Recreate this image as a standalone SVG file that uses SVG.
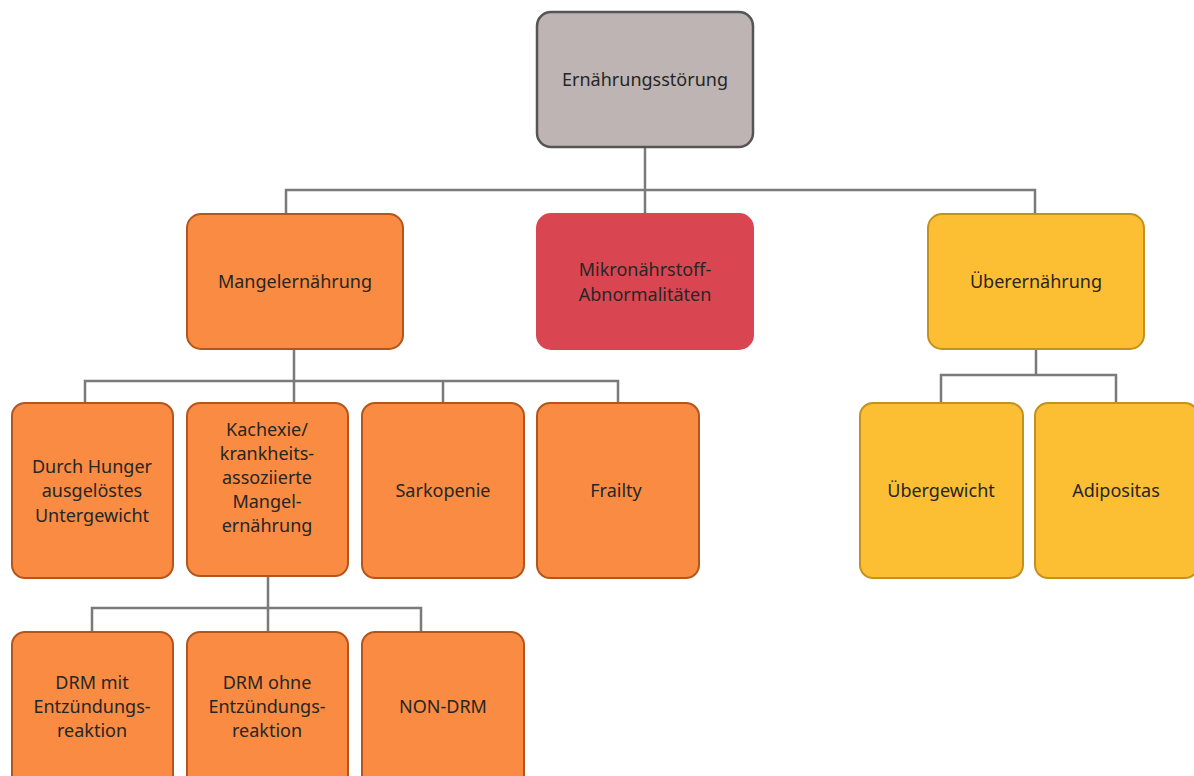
<svg xmlns="http://www.w3.org/2000/svg" width="1194" height="776" viewBox="0 0 1194 776">
<style>
text{font-family:"Noto Sans","Open Sans","DejaVu Sans",sans-serif;font-size:18px;fill:#262626;text-anchor:middle}
.g rect{fill:#bdb4b3;stroke:#555;stroke-width:2.5}
.o rect{fill:#f98b43;stroke:#b3551c;stroke-width:2}
.r rect{fill:#d94652;stroke:#d94652;stroke-width:2}
.y rect{fill:#fcbf33;stroke:#c4911f;stroke-width:2}
#connectors path{fill:none;stroke:#7a7a7a;stroke-width:2.5}
</style>
<rect width="1194" height="776" fill="#fff"/>
<g id="connectors">
<path d="M645 147V214M286 214V190H1035V214"/>
<path d="M294 349V381M85 403V381H618V403M294 381V403M443 381V403"/>
<path d="M1036 349V375M941 403V375H1116V403"/>
<path d="M268 576V632M92 632V608H421V632"/>
</g>
<g id="n-root" class="g"><rect x="537" y="12" width="216" height="135" rx="14"/><text x="645" y="86">Ernährungsstörung</text></g>
<g id="n-mangel" class="o"><rect x="187" y="214" width="216" height="135" rx="14"/><text x="295" y="288">Mangelernährung</text></g>
<g id="n-mikro" class="r"><rect x="537" y="214" width="216" height="135" rx="14"/><text x="645" y="276">Mikronährstoff-</text><text x="645" y="301">Abnormalitäten</text></g>
<g id="n-ueber" class="y"><rect x="928" y="214" width="216" height="135" rx="14"/><text x="1036" y="288">Überernährung</text></g>
<g id="n-hunger" class="o"><rect x="12" y="403" width="161" height="175" rx="13"/><text x="92" y="473">Durch Hunger</text><text x="92" y="497">ausgelöstes</text><text x="92" y="522">Untergewicht</text></g>
<g id="n-kachexie" class="o"><rect x="187" y="403" width="161" height="173" rx="13"/><text x="267" y="436">Kachexie/</text><text x="267" y="460">krankheits-</text><text x="267" y="484">assoziierte</text><text x="267" y="508">Mangel-</text><text x="267" y="532">ernährung</text></g>
<g id="n-sarko" class="o"><rect x="362" y="403" width="162" height="175" rx="13"/><text x="443" y="497">Sarkopenie</text></g>
<g id="n-frailty" class="o"><rect x="537" y="403" width="162" height="175" rx="13"/><text x="616" y="497">Frailty</text></g>
<g id="n-uebergewicht" class="y"><rect x="860" y="403" width="163" height="175" rx="13"/><text x="941" y="497">Übergewicht</text></g>
<g id="n-adipositas" class="y"><rect x="1035" y="403" width="163" height="175" rx="13"/><text x="1116" y="497">Adipositas</text></g>
<g id="n-drm-mit" class="o"><rect x="12" y="632" width="161" height="160" rx="13"/><text x="92" y="689">DRM mit</text><text x="92" y="713">Entzündungs-</text><text x="92" y="737">reaktion</text></g>
<g id="n-drm-ohne" class="o"><rect x="187" y="632" width="161" height="160" rx="13"/><text x="267" y="689">DRM ohne</text><text x="267" y="713">Entzündungs-</text><text x="267" y="737">reaktion</text></g>
<g id="n-non-drm" class="o"><rect x="362" y="632" width="162" height="160" rx="13"/><text x="443" y="713">NON-DRM</text></g>
</svg>
